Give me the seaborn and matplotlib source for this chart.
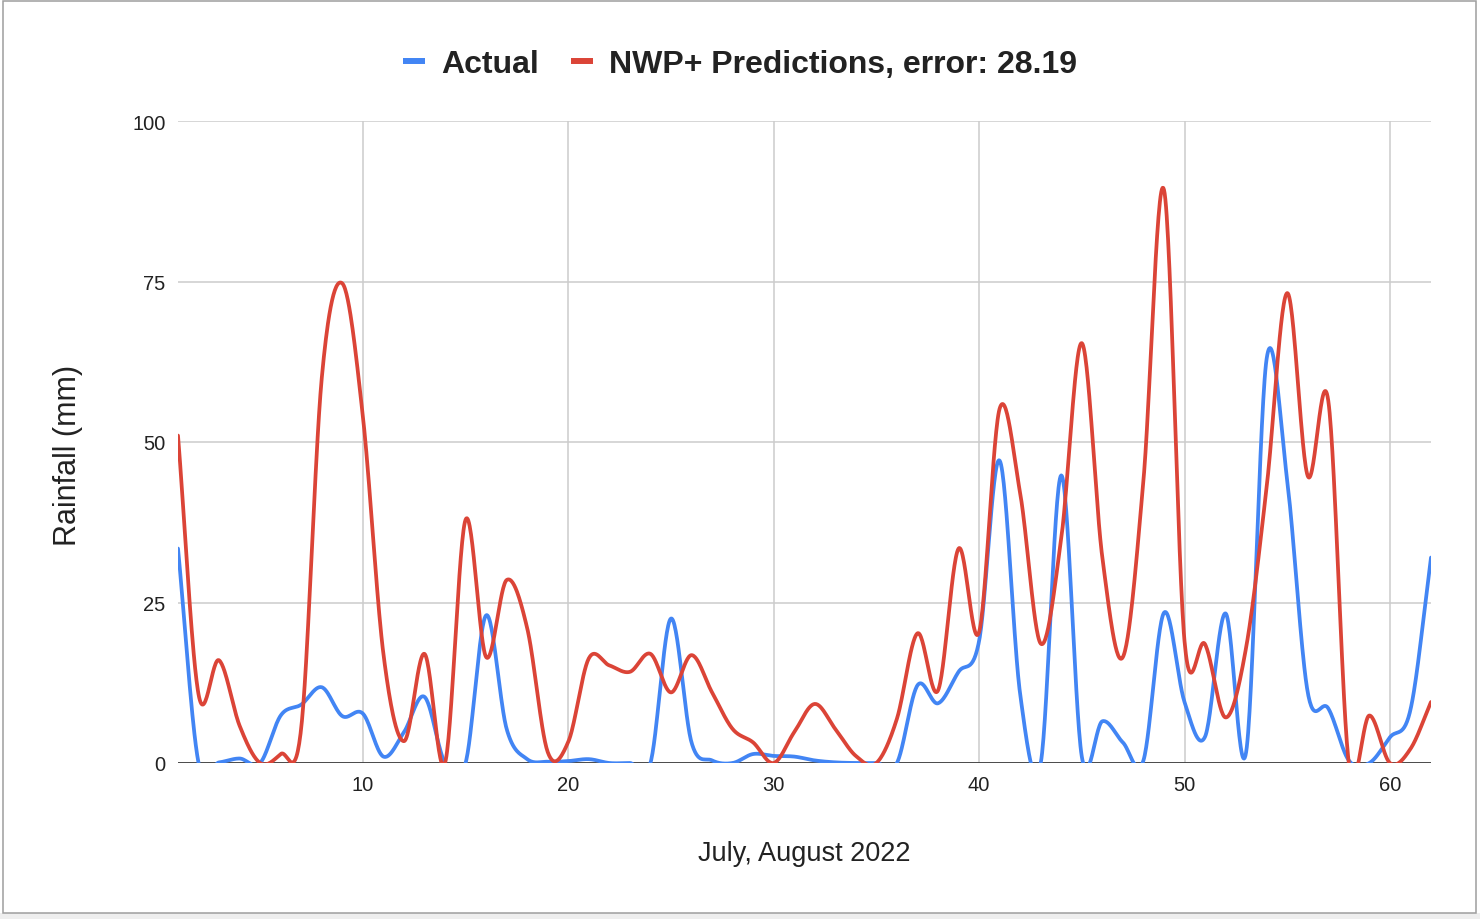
import numpy as np
import pandas as pd
import matplotlib
matplotlib.use("Agg")
import matplotlib.pyplot as plt
from matplotlib.lines import Line2D
from matplotlib.patches import Rectangle
import seaborn as sns

# daily rainfall (mm)
days = list(range(1, 63))
actual = [33.4, 0, 0.1, 0.7, 0, 7.4, 9.1, 11.8, 7.3, 7.7,
          1.0, 4.8, 10.3, 0, 0, 23.0, 5.3, 0.6, 0.2, 0.3,
          0.6, 0, 0, 0, 22.5, 3.2, 0.4, 0, 1.4, 1.1,
          1.0, 0.4, 0.1, 0, 0, 0, 12.1, 9.3, 14.2, 19.0,
          47.1, 10.7, 0, 44.8, 1.0, 6.5, 3.2, 0.4, 23.4, 9.5,
          4.1, 23.3, 1.7, 63.0, 44.0, 11.0, 8.5, 0.4, 0, 4.0,
          8.3, 32.0]
nwp = [51.0, 10.7, 16.0, 5.8, 0, 1.4, 5.5, 60.0, 74.7, 54.0,
       17.0, 3.4, 17.0, 0, 37.9, 16.5, 28.5, 21.0, 1.7, 3.3,
       16.3, 15.2, 14.2, 17.0, 11.0, 16.8, 11.0, 5.3, 3.2, 0,
       4.8, 9.2, 5.3, 1.1, 0, 6.9, 20.2, 11.3, 33.4, 20.4,
       55.2, 42.0, 18.6, 35.0, 65.4, 32.0, 16.5, 44.0, 89.3, 19.0,
       18.5, 7.1, 18.0, 43.0, 73.2, 44.7, 56.4, 0, 7.4, 0,
       2.2, 9.5]

series_names = ["Actual", "NWP+ Predictions, error: 28.19"]
colors = ["#4285F4", "#DB4437"]
x_ticks = [10, 20, 30, 40, 50, 60]
y_ticks = [0, 25, 50, 75, 100]


def smooth_curve(x, y, steps=30):
    # cubic (Catmull-Rom) curve through every day, like the "smooth" line in Sheets
    x = np.asarray(x, float)
    y = np.asarray(y, float)
    m = np.gradient(y, x)
    t = np.linspace(0, 1, steps, endpoint=False)[:, None]
    h00 = 2 * t**3 - 3 * t**2 + 1
    h10 = t**3 - 2 * t**2 + t
    h01 = -2 * t**3 + 3 * t**2
    h11 = t**3 - t**2
    dx = np.diff(x)
    xs = x[:-1] + t * dx
    ys = h00 * y[:-1] + h10 * dx * m[:-1] + h01 * y[1:] + h11 * dx * m[1:]
    xs = np.append(xs.T.ravel(), x[-1])
    ys = np.append(ys.T.ravel(), y[-1])
    return xs, ys


frames = []
for name, vals in zip(series_names, [actual, nwp]):
    xs, ys = smooth_curve(days, vals)
    frames.append(pd.DataFrame({"day": xs, "rain": ys, "series": name}))
df = pd.concat(frames, ignore_index=True)

sns.set_style("white")
plt.rcParams["font.family"] = ["Liberation Sans", "DejaVu Sans"]

fig = plt.figure(figsize=(14.8, 9.2), dpi=100)
ax = fig.add_axes([178 / 1480, 1 - 764 / 920, (1431 - 178) / 1480, (764 - 122) / 920])

sns.lineplot(data=df, x="day", y="rain", hue="series", hue_order=series_names,
             palette=colors, estimator=None, sort=False, lw=2.7, legend=False, ax=ax)

ax.set_xlim(1, 62)
ax.set_ylim(0, 100)
ax.set_xticks(x_ticks)
ax.set_yticks(y_ticks)
ax.grid(True, color="#cccccc", lw=1.1)
ax.set_axisbelow(True)
ax.axhline(0, color="#333333", lw=1.2, zorder=1.5)
for s in ax.spines.values():
    s.set_visible(False)
ax.tick_params(axis="both", length=0, labelsize=14.5, colors="#222222")
ax.tick_params(axis="x", pad=9)
ax.tick_params(axis="y", pad=9)
ax.set_xlabel("")
ax.set_ylabel("")

fig.text(804 / 1480, 1 - 854 / 920, "July, August 2022", ha="center", va="center",
         fontsize=19.5, color="#222222")
fig.text(68 / 1480, 1 - 455 / 920, "Rainfall (mm)", ha="center", va="center",
         rotation=90, fontsize=22, color="#222222")

handles = [Line2D([], [], color=c, lw=4.3, solid_capstyle="butt") for c in colors]
leg = fig.legend(handles, series_names, loc="center", bbox_to_anchor=(0.5, 1 - 65 / 920),
                 ncol=2, frameon=False, prop={"weight": "bold", "size": 23},
                 handlelength=0.7, handletextpad=0.5, columnspacing=1.0)
for txt in leg.get_texts():
    txt.set_color("#222222")

# sheet border around the chart
fig.patches.append(Rectangle((0, 0), 1, 6 / 920, transform=fig.transFigure,
                             fc="#eeeeee", ec="none"))
fig.patches.append(Rectangle((3 / 1480, 6 / 920), 1473 / 1480, 912 / 920,
                             transform=fig.transFigure, fill=False, ec="#9e9e9e", lw=1.1))

fig.savefig("out.png", dpi=100)
